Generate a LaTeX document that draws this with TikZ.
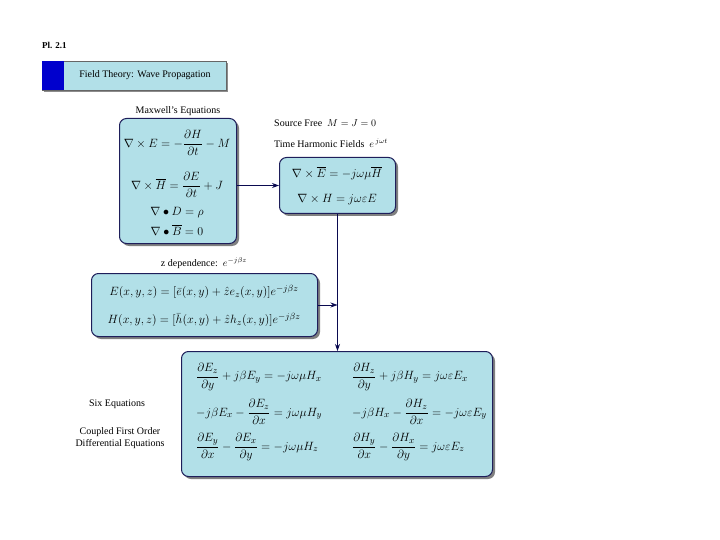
\documentclass[tikz,border=0pt]{standalone}
\usepackage{amsmath}
\usepackage{fontspec}
\setmainfont{Liberation Serif}
\usetikzlibrary{shadows,arrows.meta}
\definecolor{boxfill}{RGB}{178,224,232}
\definecolor{boxline}{RGB}{30,30,90}
\definecolor{strip}{RGB}{0,0,205}
\definecolor{wire}{RGB}{10,10,80}
\begin{document}
\begin{tikzpicture}[x=1pt,y=-1pt,
  eqbox/.style={draw=boxline, line width=1pt, fill=boxfill, rounded corners=7pt,
    drop shadow={shadow xshift=2.5pt,shadow yshift=-2.5pt,fill=black!50,opacity=1},
    anchor=north west, inner sep=0pt},
  eq/.style={font=\fontsize{13}{15}\selectfont, inner sep=0pt},
  lbl/.style={font=\fontsize{10}{12}\selectfont, inner sep=0pt},
  wirearrow/.style={draw=wire, line width=0.8pt, -{Stealth[length=7pt,width=5pt]}}
]
\useasboundingbox (0,0) rectangle (720,540);

% header
\node[font=\bfseries\fontsize{9}{11}\selectfont, anchor=west, inner sep=0pt] (pl) at (42,45) {Pl. 2.1};
\node[draw=black!60, line width=0.6pt, fill=boxfill, anchor=north west, minimum width=184pt, minimum height=29pt,
  drop shadow={shadow xshift=2pt,shadow yshift=-2pt,fill=black!45,opacity=1}, inner sep=0pt] (title) at (42,61) {};
\node[fill=strip, anchor=north west, minimum width=22pt, minimum height=29pt, inner sep=0pt] (strip) at (42,61) {};
\node[lbl, anchor=center] (titletext) at (145,75.5) {Field Theory: Wave Propagation};

% Maxwell
\node[lbl] (maxlbl) at (178,111) {Maxwell's Equations};
\node[eqbox, minimum width=117pt, minimum height=125pt] (maxbox) at (119,118) {};
\node[eq] (m1) at (177,143) {$\nabla\times E = -\dfrac{\partial H}{\partial t} - M$};
\node[eq] (m2) at (177,185) {$\nabla\times \overline{H} = \dfrac{\partial E}{\partial t} + J$};
\node[eq] (m3) at (177,213) {$\nabla\bullet D = \rho$};
\node[eq] (m4) at (177,230) {$\nabla\bullet \overline{B} = 0$};

% Time harmonic
\node[lbl, anchor=west] (src) at (274,123) {Source Free\enspace $M = J = 0$};
\node[lbl, anchor=west] (tharm) at (274,143) {Time Harmonic Fields\enspace $e^{\,j\omega t}$};
\node[eqbox, minimum width=116pt, minimum height=56pt] (thbox) at (279,157) {};
\node[eq] (t1) at (337,173) {$\nabla\times \overline{E} = -j\omega\mu \overline{H}$};
\node[eq] (t2) at (337,200) {$\nabla\times H = j\omega\varepsilon E$};

% z dependence
\node[lbl] (zlbl) at (204,263) {z dependence:\enspace $e^{-j\beta z}$};
\node[eqbox, minimum width=226pt, minimum height=63pt] (zbox) at (91,273) {};
\node[eq] (z1) at (204,292) {$E(x,y,z) = [\bar{e}(x,y) + \hat{z}e_z(x,y)]e^{-j\beta z}$};
\node[eq] (z2) at (204,320) {$H(x,y,z) = [\bar{h}(x,y) + \hat{z}h_z(x,y)]e^{-j\beta z}$};

% six equations
\node[eqbox, minimum width=311pt, minimum height=125pt] (sixbox) at (181,351) {};
\node[eq, anchor=west] (s1) at (196,377) {$\dfrac{\partial E_z}{\partial y} + j\beta E_y = -j\omega\mu H_x$};
\node[eq, anchor=west] (s2) at (196,412) {$-j\beta E_x - \dfrac{\partial E_z}{\partial x} = j\omega\mu H_y$};
\node[eq, anchor=west] (s3) at (196,447) {$\dfrac{\partial E_y}{\partial x} - \dfrac{\partial E_x}{\partial y} = -j\omega\mu H_z$};
\node[eq, anchor=west] (s4) at (352,377) {$\dfrac{\partial H_z}{\partial y} + j\beta H_y = j\omega\varepsilon E_x$};
\node[eq, anchor=west] (s5) at (352,412) {$-j\beta H_x - \dfrac{\partial H_z}{\partial x} = -j\omega\varepsilon E_y$};
\node[eq, anchor=west] (s6) at (352,447) {$\dfrac{\partial H_y}{\partial x} - \dfrac{\partial H_x}{\partial y} = j\omega\varepsilon E_z$};

\node[lbl] (sixlbl) at (117,404) {Six Equations};
\node[lbl, align=center] (cpl) at (120,438.5) {Coupled First Order\\Differential Equations};

% connectors
\draw[wirearrow] (maxbox.east |- thbox.west) -- (thbox.west);
\draw[wirearrow] (thbox.south) -- (thbox.south |- sixbox.north);
\draw[wirearrow] (zbox.east) -- (zbox.east -| thbox.south);
\end{tikzpicture}
\end{document}
